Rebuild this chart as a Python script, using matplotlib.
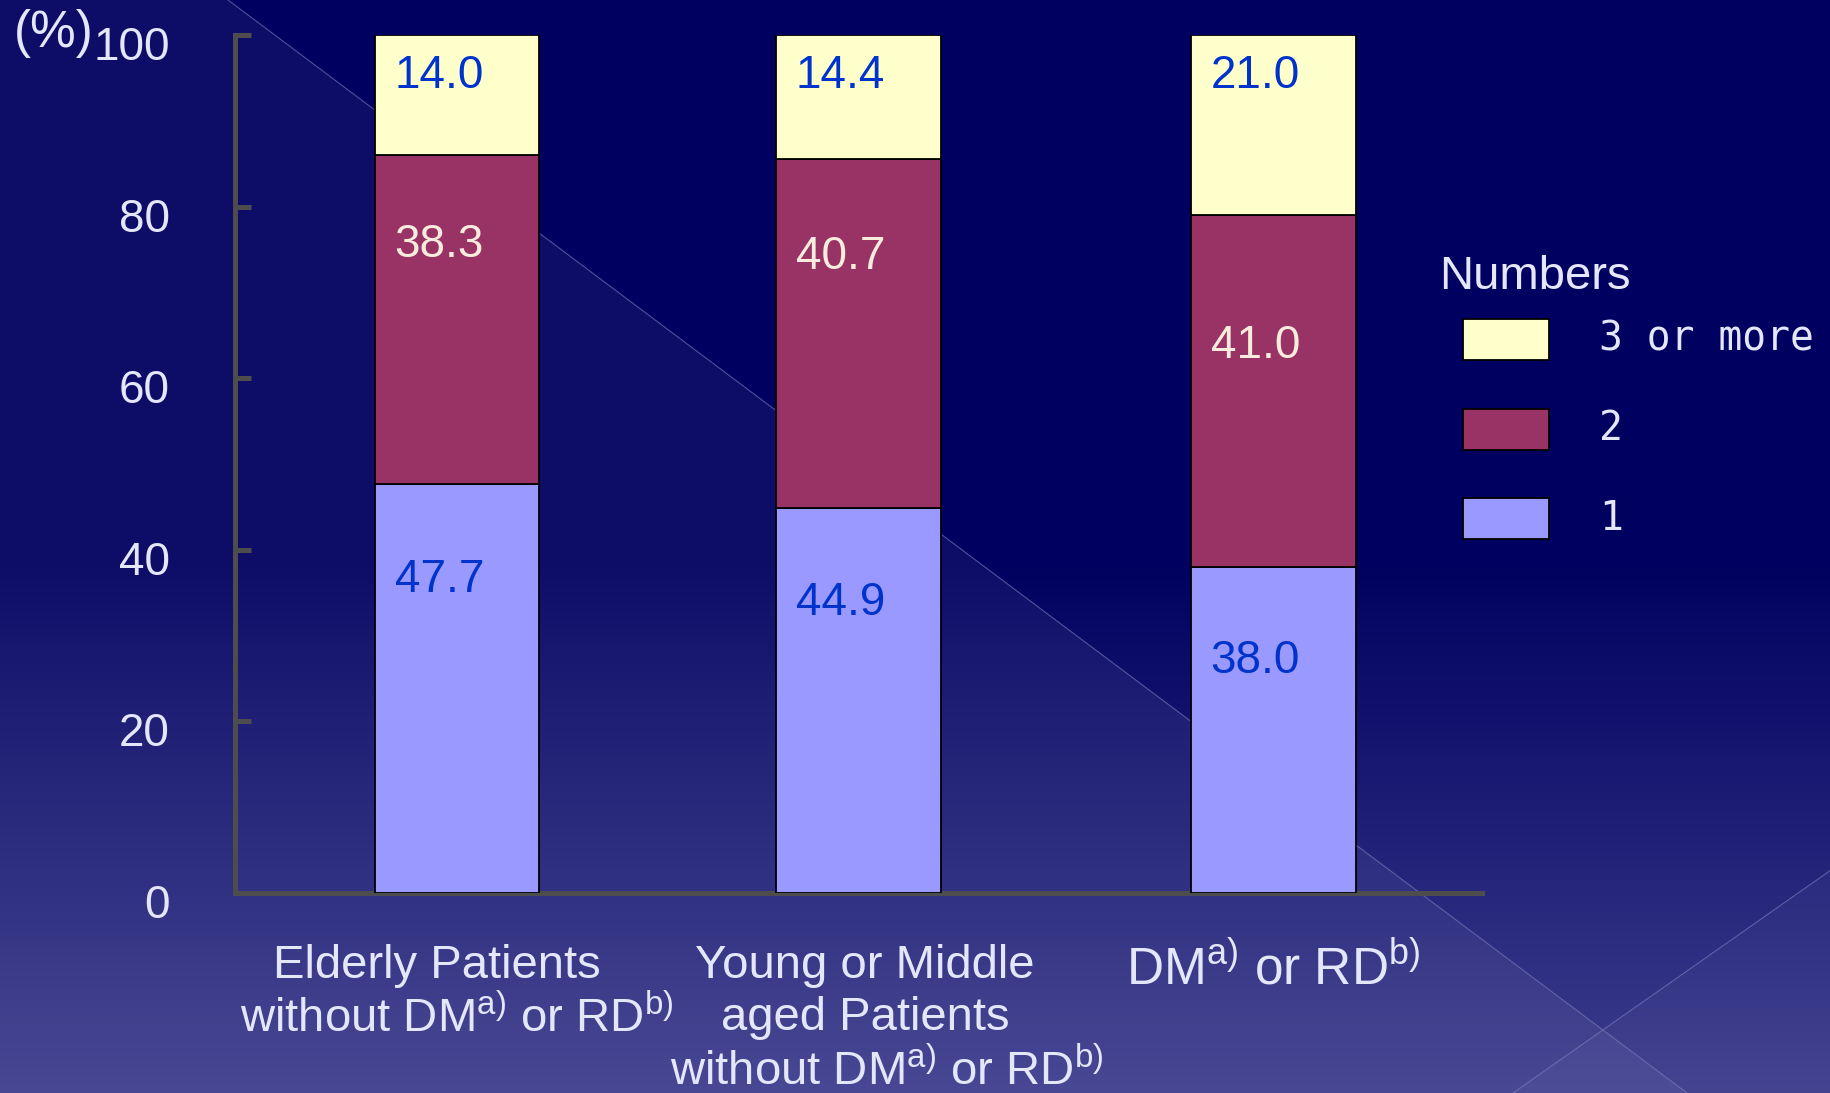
import numpy as np
import matplotlib
matplotlib.use("Agg")
import matplotlib.pyplot as plt
from matplotlib.patches import Rectangle, Polygon
from matplotlib.transforms import ScaledTranslation

plt.rcParams['font.family'] = ['Liberation Sans', 'DejaVu Sans']
plt.rcParams['mathtext.fontset'] = 'custom'
plt.rcParams['mathtext.rm'] = 'Liberation Sans'
plt.rcParams['mathtext.it'] = 'Liberation Sans:italic'

# Share of patients by number of items, per group (%)
groups = [
    'Elderly Patients   \nwithout DM$^{\\mathrm{a)}}$ or RD$^{\\mathrm{b)}}$',
    'Young or Middle\naged Patients\nwithout DM$^{\\mathrm{a)}}$ or RD$^{\\mathrm{b)}}$',
    'DM$^{\\mathrm{a)}}$ or RD$^{\\mathrm{b)}}$',
]
one = [47.7, 44.9, 38.0]
two = [38.3, 40.7, 41.0]
three_plus = [14.0, 14.4, 21.0]
series_names = ['1', '2', '3 or more']
yticks = [0, 20, 40, 60, 80, 100]

W, H = 1831, 1093
DPI = 100
TXT = '#e4e6fa'
colors = ['#9999ff', '#993366', '#ffffcc']
label_colors = ['#0033cc', '#f8ecdc', '#0033cc']
# how far below each segment's top its value label sits (px)
label_drop_px = [[96, 95, 94], [90, 98, 131], [41, 41, 41]]
positions = [0, 0.983, 2.0]

fig = plt.figure(figsize=(W / DPI, H / DPI), dpi=DPI)

# background: navy gradient with a lighter diagonal band and two thin lines
bg = fig.add_axes([0, 0, 1, 1], zorder=-1)
bg.set_xlim(0, W)
bg.set_ylim(H, 0)
bg.axis('off')
rows = np.arange(H)
t = np.clip((rows - 560) / (H - 560), 0, 1)
top = np.array([0, 0, 96]) / 255
bot = np.array([62, 62, 142]) / 255
grad = top[None, :] * (1 - t[:, None]) + bot[None, :] * t[:, None]
bg.imshow(grad[:, None, :], extent=[0, W, H, 0], aspect='auto', zorder=0)
bg.add_patch(Polygon([[0, 0], [228, 0], [1687, H], [0, H]], closed=True,
                     facecolor='white', alpha=0.055, edgecolor='none', zorder=1))
bg.add_patch(Polygon([[1513, H], [W, 870], [W, H]], closed=True,
                     facecolor='white', alpha=0.03, edgecolor='none', zorder=1))
bg.plot([228, 1687], [0, H], color='#8080c0', lw=0.8, alpha=0.6, zorder=2)
bg.plot([1513, W], [H, 870], color='#8080c0', lw=0.8, alpha=0.6, zorder=2)

# main chart
ax = fig.add_axes([235 / W, 1 - 893 / H, (1482 - 235) / W, (893 - 35) / H])
ax.set_facecolor('none')
x = np.array(positions)
width = 0.404
stack = [one, two, three_plus]
bottom = np.zeros(len(groups))
for k, vals in enumerate(stack):
    vals = np.array(vals)
    ax.bar(x, vals, width, bottom=bottom, color=colors[k],
           edgecolor='black', linewidth=1.3, zorder=3)
    tops = bottom + vals
    for i in range(len(groups)):
        ax.annotate(f'{vals[i]:.1f}', (x[i] - width / 2, tops[i]),
                    xytext=(20 * 72 / DPI, -label_drop_px[k][i] * 72 / DPI),
                    textcoords='offset points', ha='left', va='center',
                    fontsize=33, color=label_colors[k], zorder=4)
    bottom = tops

ax.set_xlim(-0.544, 2.512)
ax.set_ylim(0, 100)

# the middle label's last line sits a little to the right of the others
tick_text = list(groups)
head, tail = groups[1].rsplit('\n', 1)
tick_text[1] = head
ax.set_xticks(x)
ax.set_xticklabels(tick_text, fontsize=34, color=TXT, linespacing=1.21)
ax.set_yticks(yticks)
ax.set_yticklabels([str(v) for v in yticks], fontsize=33, color=TXT)
ax.tick_params(axis='x', length=0, pad=37)
ax.tick_params(axis='y', direction='in', length=11.5, width=3.6,
               color='#4d4d4d', pad=47)
xlabels = ax.get_xticklabels()
xlabels[2].set_fontsize(37)
xlabels[1].set_transform(xlabels[1].get_transform()
                         + ScaledTranslation(7 / DPI, 0, fig.dpi_scale_trans))
ax.annotate(tail, (x[1], 0), xytext=(29 * 72 / DPI, -192 * 72 / DPI),
            textcoords='offset points', ha='center', va='baseline',
            fontsize=34, color=TXT, annotation_clip=False)

ax.yaxis.get_major_ticks()[4].tick1line.set_color('black')
shift = ScaledTranslation(0, -8 / DPI, fig.dpi_scale_trans)
for lbl in ax.get_yticklabels():
    lbl.set_transform(lbl.get_transform() + shift)
for side in ['top', 'right']:
    ax.spines[side].set_visible(False)
for side in ['left', 'bottom']:
    ax.spines[side].set_color('#4d4d4d')
    ax.spines[side].set_linewidth(3.6)

fig.text(14 / W, 1 - 33 / H, '(%)', fontsize=37, color=TXT,
         ha='left', va='center')

# legend
bg.text(1439, 277, 'Numbers', fontsize=34, color=TXT, ha='left', va='center')
legend_tops = [319, 409, 498]
for k, name in enumerate(reversed(series_names)):
    c = colors[len(colors) - 1 - k]
    y0 = legend_tops[k]
    bg.add_patch(Rectangle((1463, y0), 86, 41, facecolor=c,
                           edgecolor='black', linewidth=1.3, zorder=3))
    bg.text(1599, y0 + 20.5, name, fontsize=28.5, color=TXT, ha='left',
            va='center', family='DejaVu Sans Mono', zorder=3)

fig.savefig('out.png', dpi=DPI)
